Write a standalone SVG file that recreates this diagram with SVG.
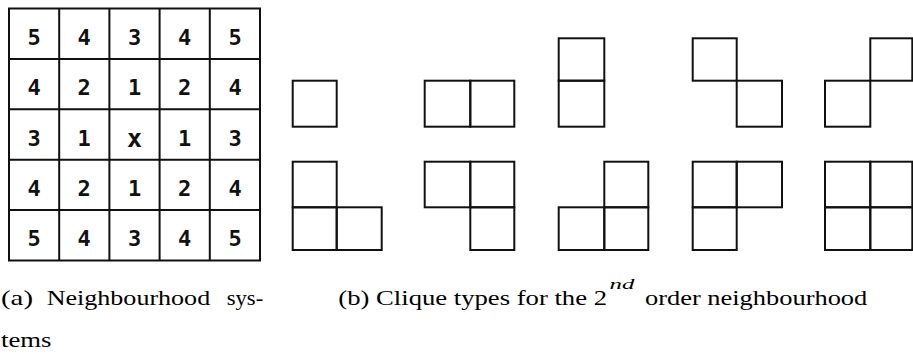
<svg xmlns="http://www.w3.org/2000/svg" width="913" height="354" viewBox="0 0 913 354">
<style>
.ln{stroke:#111;stroke-width:2;fill:none}
.num{font-family:"DejaVu Sans Mono",monospace;font-weight:bold;font-size:22px;fill:#111;text-anchor:middle}
.cap{font-family:"Liberation Serif",serif;font-size:21px;fill:#000}
</style>
<rect width="913" height="354" fill="#fff"/>
<g id="grid">
<rect class="ln" x="9" y="8.5" width="251" height="252"/>
<path class="ln" d="M59.2 8.5V260.5M109.4 8.5V260.5M159.6 8.5V260.5M209.8 8.5V260.5M9 58.9H260M9 109.3H260M9 159.7H260M9 210.1H260"/>
<text class="num" x="34" y="44.5">5</text><text class="num" x="84.2" y="44.5">4</text><text class="num" x="134.5" y="44.5">3</text><text class="num" x="184.7" y="44.5">4</text><text class="num" x="235" y="44.5">5</text>
<text class="num" x="34" y="95">4</text><text class="num" x="84.2" y="95">2</text><text class="num" x="134.5" y="95">1</text><text class="num" x="184.7" y="95">2</text><text class="num" x="235" y="95">4</text>
<text class="num" x="34" y="145.5">3</text><text class="num" x="84.2" y="145.5">1</text><text class="num" x="134.5" y="146.5" style="font-size:25px">x</text><text class="num" x="184.7" y="145.5">1</text><text class="num" x="235" y="145.5">3</text>
<text class="num" x="34" y="196">4</text><text class="num" x="84.2" y="196">2</text><text class="num" x="134.5" y="196">1</text><text class="num" x="184.7" y="196">2</text><text class="num" x="235" y="196">4</text>
<text class="num" x="34" y="245.5">5</text><text class="num" x="84.2" y="245.5">4</text><text class="num" x="134.5" y="245.5">3</text><text class="num" x="184.7" y="245.5">4</text><text class="num" x="235" y="245.5">5</text>
</g>
<g id="clique-single">
<rect class="ln" x="292.7" y="80.7" width="44" height="46"/>
</g>
<g id="clique-horizontal">
<rect class="ln" x="424.7" y="80.7" width="45.6" height="46"/>
<rect class="ln" x="470.3" y="80.7" width="44" height="46"/>
</g>
<g id="clique-vertical">
<rect class="ln" x="558.7" y="38.3" width="45.6" height="42.4"/>
<rect class="ln" x="558.7" y="80.7" width="45.6" height="46"/>
</g>
<g id="clique-diagonal">
<rect class="ln" x="692.7" y="38.3" width="44" height="42.4"/>
<rect class="ln" x="736.7" y="80.7" width="45.3" height="46"/>
</g>
<g id="clique-antidiagonal">
<rect class="ln" x="870.3" y="38.3" width="42" height="42.4"/>
<rect class="ln" x="825" y="80.7" width="45.3" height="46"/>
</g>
<g id="clique-triple-1">
<rect class="ln" x="292.7" y="161.7" width="44" height="45.6"/>
<rect class="ln" x="292.7" y="207.3" width="44" height="42.7"/>
<rect class="ln" x="336.7" y="207.3" width="45" height="42.7"/>
</g>
<g id="clique-triple-2">
<rect class="ln" x="424.7" y="161.7" width="45.6" height="45.6"/>
<rect class="ln" x="470.3" y="161.7" width="44" height="45.6"/>
<rect class="ln" x="470.3" y="207.3" width="44" height="42.7"/>
</g>
<g id="clique-triple-3">
<rect class="ln" x="604.3" y="161.7" width="44" height="45.6"/>
<rect class="ln" x="558.7" y="207.3" width="45.6" height="42.7"/>
<rect class="ln" x="604.3" y="207.3" width="44" height="42.7"/>
</g>
<g id="clique-triple-4">
<rect class="ln" x="692.7" y="161.7" width="44" height="45.6"/>
<rect class="ln" x="736.7" y="161.7" width="45.3" height="45.6"/>
<rect class="ln" x="692.7" y="207.3" width="44" height="42.7"/>
</g>
<g id="clique-quad">
<rect class="ln" x="825" y="161.7" width="45.3" height="45.6"/>
<rect class="ln" x="870.3" y="161.7" width="42" height="45.6"/>
<rect class="ln" x="825" y="207.3" width="45.3" height="42.7"/>
<rect class="ln" x="870.3" y="207.3" width="42" height="42.7"/>
</g>
<g id="captions">
<text class="cap" x="1" y="305" textLength="32" lengthAdjust="spacingAndGlyphs">(a)</text>
<text class="cap" x="46.7" y="305" textLength="163.5" lengthAdjust="spacingAndGlyphs">Neighbourhood</text>
<text class="cap" x="226.7" y="305" textLength="36.5" lengthAdjust="spacingAndGlyphs">sys-</text>
<text class="cap" x="1" y="347" textLength="50.5" lengthAdjust="spacingAndGlyphs">tems</text>
<text class="cap" x="338.3" y="305" textLength="268.7" lengthAdjust="spacingAndGlyphs">(b) Clique types for the 2</text>
<text class="cap" x="609.5" y="288.5" textLength="24.8" lengthAdjust="spacingAndGlyphs" style="font-size:15px;font-style:italic">nd</text>
<text class="cap" x="645" y="305" textLength="222.3" lengthAdjust="spacingAndGlyphs">order neighbourhood</text>
</g>
</svg>
